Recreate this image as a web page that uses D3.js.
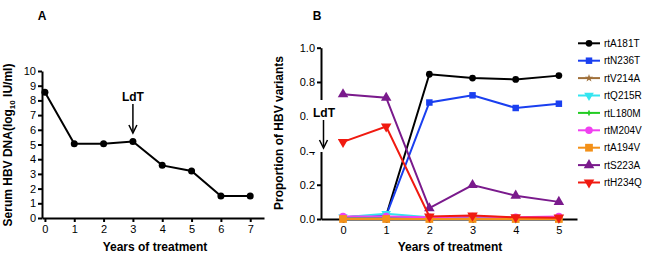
<!DOCTYPE html>
<html lang="en">
  <head>
    <meta charset="UTF-8" />
    <title>hbv-d3</title>
    <style>
      body { margin: 0; background: #fff; font-family: "Liberation Sans", Arial, sans-serif; }
      svg { display: block; }
      .tick text { font-size: 11px; font-family: "Liberation Sans", Arial, sans-serif; fill: #000; }
      .tick line, .domain { stroke: #000; stroke-width: 2px; }
      .title { font-size: 12px; font-weight: bold; }
      .panel { font-size: 12px; font-weight: bold; }
      .legend text { font-size: 10px; }
    </style>
  </head>
  <body>
    <script src="https://cdn.jsdelivr.net/npm/d3@7"></script>
    <script>
      // panel A
      const yearsA = [0, 1, 2, 3, 4, 5, 6, 7];
      const dnaA = [8.55, 5.05, 5.05, 5.2, 3.58, 3.2, 1.5, 1.5];
      const ticksYA = [0, 1, 2, 3, 4, 5, 6, 7, 8, 9, 10];

      // panel B
      const yearsB = [0, 1, 2, 3, 4, 5];
      const variants = ["rtA181T", "rtN236T", "rtV214A", "rtQ215R", "rtL180M", "rtM204V", "rtA194V", "rtS223A", "rtH234Q"];
      const rtA181T = [0.01, 0.02, 0.845, 0.823, 0.815, 0.837];
      const rtN236T = [0.01, 0.02, 0.68, 0.722, 0.648, 0.673];
      const rtV214A = [0.005, 0.01, 0.005, 0.005, 0.005, 0.005];
      const rtQ215R = [0.01, 0.03, 0.01, 0.01, 0.005, 0.005];
      const rtL180M = [0.005, 0.01, 0.005, 0.005, 0.005, 0.005];
      const rtM204V = [0.015, 0.015, 0.01, 0.015, 0.01, 0.015];
      const rtA194V = [0, 0, 0, 0, 0, 0];
      const rtS223A = [0.728, 0.708, 0.063, 0.198, 0.136, 0.1];
      const rtH234Q = [0.45, 0.54, 0.015, 0.02, 0.01, 0.008];
      const seriesB = [rtA181T, rtN236T, rtV214A, rtQ215R, rtL180M, rtM204V, rtA194V, rtS223A, rtH234Q];
      const ticksYB = [0, 0.2, 0.4, 0.6, 0.8, 1.0];

      const colors = ["#000000", "#1a3ff0", "#a0703a", "#33e5f0", "#22cc22", "#f040f0", "#f39018", "#7a1a8c", "#f01a10"];
      const shapes = [d3.symbolCircle, d3.symbolSquare, d3.symbolStar, "down", d3.symbolCross, d3.symbolCircle, d3.symbolSquare, d3.symbolTriangle, "down"];
      const sizes = [36, 42, 20, 40, 14, 44, 60, 48, 48];

      const svg = d3.select("body").append("svg").attr("width", 650).attr("height", 255);

      function arrow(g, x, y1, y2) {
        g.append("line").attr("x1", x).attr("x2", x).attr("y1", y1).attr("y2", y2 - 2)
          .attr("stroke", "#000").attr("stroke-width", 1.5);
        g.append("path").attr("d", `M${x - 4},${y2 - 8} L${x},${y2} L${x + 4},${y2 - 8}`)
          .attr("fill", "none").attr("stroke", "#000").attr("stroke-width", 1.5);
      }

      // ---------- A ----------
      const xA = d3.scaleLinear().domain([-0.1, 7.47]).range([42, 264]);
      const yA = d3.scaleLinear().domain([0, 10]).range([218, 71]);
      const gA = svg.append("g");

      gA.append("g").attr("transform", "translate(0,218)")
        .call(d3.axisBottom(xA).tickValues(yearsA).tickSize(4).tickSizeOuter(0).tickPadding(3));
      gA.append("g").attr("transform", "translate(42,0)")
        .call(d3.axisLeft(yA).tickValues(ticksYA).tickSize(4).tickSizeOuter(0).tickPadding(2));

      gA.append("path").datum(yearsA)
        .attr("fill", "none").attr("stroke", "#000").attr("stroke-width", 2)
        .attr("d", d3.line().x(d => xA(d)).y((d, i) => yA(dnaA[i])));
      gA.selectAll(".dot").data(yearsA).join("circle")
        .attr("cx", d => xA(d)).attr("cy", (d, i) => yA(dnaA[i])).attr("r", 3.5).attr("fill", "#000");

      gA.append("text").attr("class", "panel").attr("x", 42).attr("y", 20).attr("text-anchor", "middle").text("A");
      gA.append("text").attr("class", "title").attr("x", 155).attr("y", 251).attr("text-anchor", "middle").text("Years of treatment");
      const labA = gA.append("text").attr("class", "title").attr("text-anchor", "middle")
        .attr("transform", "translate(12,145) rotate(-90)");
      labA.append("tspan").text("Serum HBV DNA(log");
      labA.append("tspan").attr("font-size", "8px").attr("dy", 3).text("10");
      labA.append("tspan").attr("dy", -3).text(" IU/ml)");
      gA.append("text").attr("class", "title").attr("x", xA(3)).attr("y", 101).attr("text-anchor", "middle").text("LdT");
      arrow(gA, xA(3), 104, 133);

      // ---------- B ----------
      const xB = d3.scaleLinear().domain([-0.51, 5.42]).range([321, 577]);
      const yB = d3.scaleLinear().domain([0, 1]).range([219, 47.7]);
      const gB = svg.append("g");

      gB.append("g").attr("transform", "translate(0,219)")
        .call(d3.axisBottom(xB).tickValues(yearsB).tickFormat(d3.format("d")).tickSize(4).tickSizeOuter(0).tickPadding(3));
      gB.append("g").attr("transform", "translate(321,0)")
        .call(d3.axisLeft(yB).tickValues(ticksYB).tickFormat(d3.format(".1f")).tickSize(4).tickSizeOuter(0).tickPadding(2));

      function symPath(shape, size) {
        if (shape === "down") {
          return d3.symbol().type(d3.symbolTriangle).size(size)();
        }
        return d3.symbol().type(shape).size(size)();
      }

      seriesB.forEach((vals, k) => {
        const g = gB.append("g");
        g.append("path").datum(yearsB)
          .attr("fill", "none").attr("stroke", colors[k]).attr("stroke-width", 2)
          .attr("d", d3.line().x(d => xB(d)).y((d, i) => yB(vals[i])));
        g.selectAll("path.m").data(yearsB).join("path").attr("class", "m")
          .attr("d", symPath(shapes[k], sizes[k]))
          .attr("transform", (d, i) => `translate(${xB(d)},${yB(vals[i])})` + (shapes[k] === "down" ? " rotate(180)" : ""))
          .attr("fill", colors[k]);
      });

      // white box hiding part of the axis behind the LdT note
      gB.append("rect").attr("x", 308).attr("y", 100).attr("width", 30).attr("height", 52).attr("fill", "#fff");
      gB.append("text").attr("class", "title").attr("x", 324).attr("y", 117).attr("text-anchor", "middle").text("LdT");
      arrow(gB, 323.5, 120, 148);

      gB.append("text").attr("class", "panel").attr("x", 317).attr("y", 20).attr("text-anchor", "middle").text("B");
      gB.append("text").attr("class", "title").attr("x", 450).attr("y", 251).attr("text-anchor", "middle").text("Years of treatment");
      gB.append("text").attr("class", "title").attr("text-anchor", "middle")
        .attr("transform", "translate(283,133) rotate(-90)").text("Proportion of HBV variants");

      // legend
      const leg = gB.append("g").attr("class", "legend");
      variants.forEach((name, k) => {
        const y = 43.3 + k * 17.4;
        leg.append("line").attr("x1", 578).attr("x2", 600).attr("y1", y).attr("y2", y)
          .attr("stroke", colors[k]).attr("stroke-width", 2);
        leg.append("path").attr("d", symPath(shapes[k], sizes[k]))
          .attr("transform", `translate(589,${y})` + (shapes[k] === "down" ? " rotate(180)" : ""))
          .attr("fill", colors[k]);
        leg.append("text").attr("x", 604).attr("y", y + 3.6).text(name);
      });
    </script>
  </body>
</html>
